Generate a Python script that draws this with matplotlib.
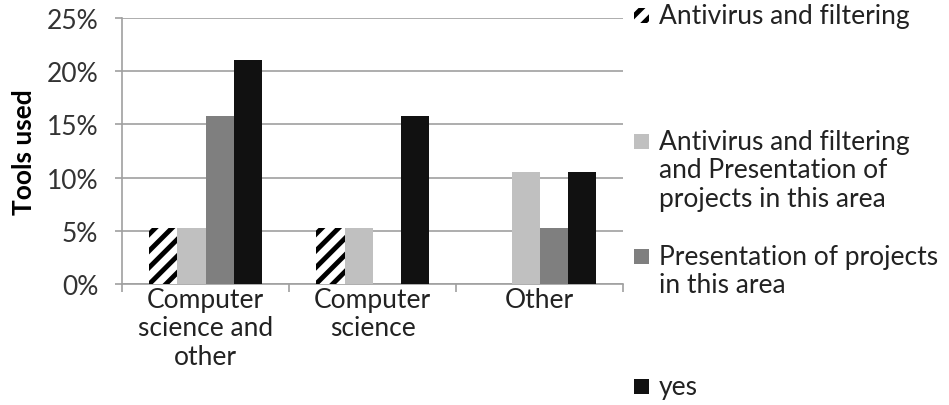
import numpy as np
import matplotlib
matplotlib.use("Agg")
import matplotlib.pyplot as plt
from matplotlib.patches import Rectangle
from matplotlib.ticker import PercentFormatter

plt.rcParams['font.family'] = ['Lato', 'DejaVu Sans']
plt.rcParams['hatch.linewidth'] = 3.5

categories = ["Computer\nscience and\nother", "Computer\nscience", "Other"]
series_names = ["Antivirus and filtering",
                "Antivirus and filtering\nand Presentation of\nprojects in this area",
                "Presentation of projects\nin this area",
                "yes"]
antivirus = [5.26, 5.26, 0.0]
antivirus_pres = [5.26, 5.26, 10.53]
presentation = [15.79, 0.0, 5.26]
yes = [21.05, 15.79, 10.53]
values = [antivirus, antivirus_pres, presentation, yes]

colors = ["white", "#c0c0c0", "#7f7f7f", "#111111"]
hatches = ["//", None, None, None]
fs = 19

fig = plt.figure(figsize=(9.49, 4.06), dpi=100)
ax = fig.add_axes([0.1286, 0.298, 0.528, 0.655])

x = np.arange(len(categories))
w = 0.168
for i, vals in enumerate(values):
    ax.bar(x + (i - 1.5) * w, vals, w, color=colors[i], hatch=hatches[i],
           edgecolor="black" if hatches[i] else colors[i], linewidth=0, zorder=3)

ax.set_xlim(-0.5, 2.5)
ax.set_ylim(0, 25)
ax.set_yticks(np.arange(0, 26, 5))
ax.yaxis.set_major_formatter(PercentFormatter(decimals=0))
ax.grid(axis="y", color="#a0a0a0", linewidth=1.2, zorder=0)
for s in ["top", "right"]:
    ax.spines[s].set_visible(False)
for s in ["left", "bottom"]:
    ax.spines[s].set_color("#a0a0a0")
    ax.spines[s].set_linewidth(1.2)

ax.set_xticks(x)
ax.set_xticklabels(categories, fontsize=fs, color="#222222", linespacing=1.17)
ax.tick_params(axis="x", length=0, pad=2)
ax.set_xticks(np.arange(-0.5, 3, 1), minor=True)
ax.tick_params(axis="x", which="minor", length=6, color="#a0a0a0", width=1.2)
ax.tick_params(axis="y", labelsize=fs, labelcolor="#333333", length=5,
               color="#a0a0a0", width=1.2, pad=12)
ax.set_ylabel("Tools used", fontsize=fs, fontweight="bold", labelpad=8)

# legend drawn by hand to keep the uneven spacing of the original
leg_y = [0.958, 0.648, 0.365, 0.045]
for i, name in enumerate(series_names):
    y = leg_y[i]
    fig.patches.append(Rectangle((0.668, y - 0.017), 0.016, 0.036,
                                 transform=fig.transFigure,
                                 facecolor=colors[i], hatch=hatches[i],
                                 edgecolor="black" if hatches[i] else colors[i],
                                 linewidth=0))
    fig.text(0.694, y + 0.032, name, fontsize=fs, color="#222222",
             va="top", ha="left", linespacing=1.17)

fig.savefig("out.png", dpi=100)
